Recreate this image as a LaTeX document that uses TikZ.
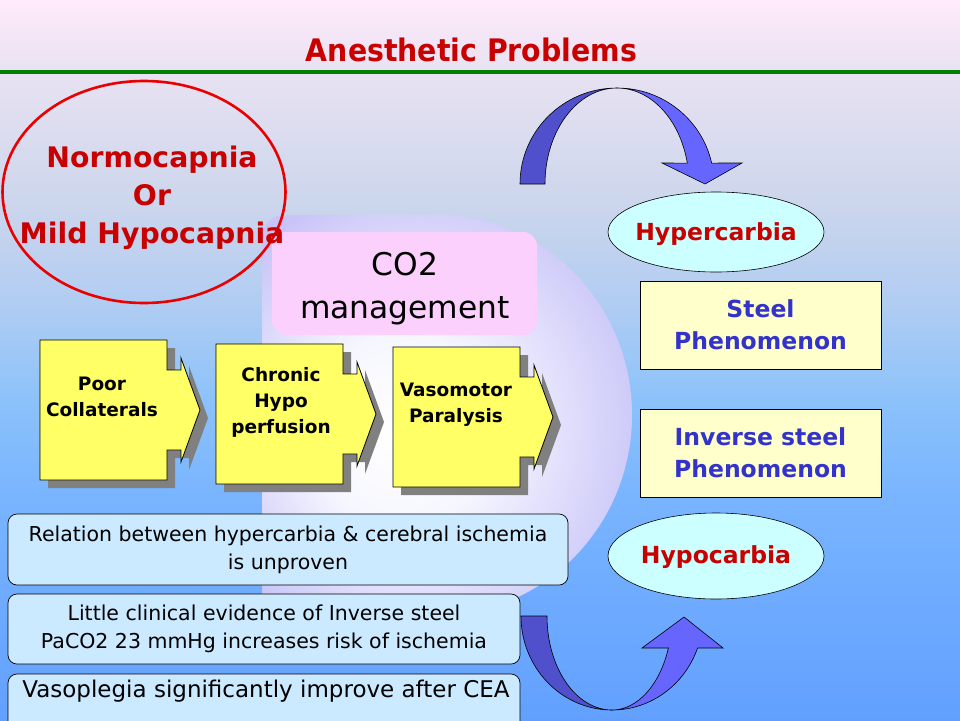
\documentclass[tikz,border=0pt]{standalone}
\usepackage{fontspec}
\setmainfont{DejaVu Sans}
\newfontfamily\titlefont[FakeStretch=0.915]{DejaVu Sans}
\usetikzlibrary{shapes.geometric}
\definecolor{bgA}{RGB}{255,234,250}
\definecolor{bgB}{RGB}{232,226,242}
\definecolor{bgC}{RGB}{205,214,236}
\definecolor{bgD}{RGB}{178,205,242}
\definecolor{bgE}{RGB}{140,194,250}
\definecolor{bgF}{RGB}{120,180,255}
\definecolor{bgG}{RGB}{98,160,255}
\definecolor{sphA}{RGB}{246,246,255}
\definecolor{sphB}{RGB}{200,196,248}
\definecolor{titlered}{RGB}{200,0,0}
\definecolor{ellred}{RGB}{235,0,0}
\definecolor{linegreen}{RGB}{0,128,0}
\definecolor{pinkbox}{RGB}{252,208,252}
\definecolor{yfill}{RGB}{255,255,102}
\definecolor{shadowgray}{RGB}{128,128,128}
\definecolor{cyanfill}{RGB}{204,255,255}
\definecolor{paleyellow}{RGB}{255,255,204}
\definecolor{textblue}{RGB}{51,51,204}
\definecolor{boxblue}{RGB}{204,234,255}
\definecolor{darkband}{RGB}{80,80,204}
\definecolor{lightband}{RGB}{102,102,255}
\pgfdeclareverticalshading{bgshade}{100bp}{color(0bp)=(bgG); color(25bp)=(bgG); color(40.3bp)=(bgF); color(47.2bp)=(bgE); color(54.2bp)=(bgD); color(61.1bp)=(bgC); color(70bp)=(bgB); color(75bp)=(bgA); color(100bp)=(bgA)}
\pgfdeclareradialshading{sphereshade}{\pgfpoint{-8bp}{-2.5bp}}{color(0bp)=(white); color(12bp)=(sphA); color(31bp)=(sphB); color(50bp)=(sphB)}
\begin{document}
\begin{tikzpicture}[x=1pt,y=-1pt,
  yarrow/.pic={
    \fill[shadowgray,shift={(8,8)}] (0,0) -- (127,0) -- (127,30) -- (141,30) -- (141,18) -- (160,70) -- (141,122) -- (141,110) -- (127,110) -- (127,140) -- (0,140) -- cycle;
    \filldraw[fill=yfill,draw=black,line width=0.8pt] (0,0) -- (127,0) -- (127,30) -- (141,30) -- (141,18) -- (160,70) -- (141,122) -- (141,110) -- (127,110) -- (127,140) -- (0,140) -- cycle;
  },
  ytext/.style={font=\fontsize{18.5}{26}\selectfont\bfseries, align=center, inner sep=0pt},
  bandD/.style={fill=darkband, draw=black, line width=0.6pt},
  bandL/.style={fill=lightband, draw=black, line width=0.6pt},
  bluebox/.style={draw=black, line width=0.7pt, fill=boxblue, rounded corners=9pt, align=center, inner sep=0pt},
  steelbox/.style={draw=black, line width=0.7pt, fill=paleyellow, minimum width=241pt, minimum height=88pt, align=center, inner sep=0pt, text=textblue, font=\fontsize{23.5}{32}\selectfont\bfseries},
  carbia/.style={ellipse, draw=black, line width=0.6pt, fill=cyanfill, minimum width=216pt, inner sep=0pt},
  carbiatext/.style={inner sep=0pt, text=titlered, font=\fontsize{23.5}{28}\selectfont\bfseries}
]
\useasboundingbox (0,0) rectangle (960,720);
% background
\shade[shading=bgshade] (0,0) rectangle (960,720);
\draw[linegreen, line width=4pt] (0,72) -- (960,72);
\node[font={\titlefont\fontsize{31}{36}\selectfont\bfseries}, text=titlered, inner sep=0pt] (title) at (471.5,50) {Anesthetic Problems};
% sphere
\shade[shading=sphereshade] (262,615) -- (262,237) arc[start angle=180,end angle=270,radius=22] -- (437,215) arc[start angle=270,end angle=450,x radius=195,y radius=200] -- cycle;
% CO2 box
\node[fill=pinkbox, rounded corners=14pt, minimum width=265pt, minimum height=103pt, inner sep=0pt] (co2box) at (404.5,283.5) {};
\node[inner sep=0pt, align=center, font=\fontsize{31.3}{43}\selectfont] (co2) at (405,289) {CO2\\management};
% red ellipse
\node[ellipse, draw=ellred, line width=2.6pt, minimum width=283pt, minimum height=222pt, inner sep=0pt] (normoE) at (144,192) {};
\node[inner sep=0pt, align=center, text=titlered, font=\fontsize{28.3}{38}\selectfont\bfseries] (normo) at (152,198) {Normocapnia\\Or\\Mild Hypocapnia};
% yellow arrows
\pic at (40,340) {yarrow};
\pic at (216,344) {yarrow};
\pic at (393,347) {yarrow};
\node[ytext] (poor) at (102,397) {Poor\\Collaterals};
\node[ytext] (chronic) at (281,402) {Chronic\\Hypo\\perfusion};
\node[ytext] (vaso) at (456,405) {Vasomotor\\Paralysis};
% right column
\node[carbia, minimum height=80pt] (hyperE) at (716,232) {};
\node[carbiatext] (hyper) at (716,234) {Hypercarbia};
\node[steelbox] (steel) at (760.5,325) {Steel\\Phenomenon};
\node[steelbox] (inverse) at (760.5,453) {Inverse steel\\Phenomenon};
\node[carbia, minimum height=86pt] (hypoE) at (716,556) {};
\node[carbiatext] (hypo) at (716,557) {Hypocarbia};
% bottom boxes
\node[bluebox, minimum width=560pt, minimum height=71pt, font=\fontsize{20.5}{28}\selectfont] (rel) at (288,549.5) {Relation between hypercarbia \& cerebral ischemia\\is unproven};
\node[bluebox, minimum width=512pt, minimum height=70pt, font=\fontsize{20.5}{28}\selectfont] (little) at (264,629) {Little clinical evidence of Inverse steel\\PaCO2 23 mmHg increases risk of ischemia};
\draw[bluebox] (8,674) rectangle (520,750);
\node[font=\fontsize{23}{28}\selectfont, inner sep=0pt] (vasopl) at (266,691) {Vasoplegia significantly improve after CEA};
% top curved arrow
\filldraw[bandL] (617,88) arc[start angle=270,end angle=347.4,x radius=97,y radius=96] -- (742,163) -- (705,184) -- (662,163) -- (687.3,163.1) arc[start angle=347.4,end angle=270,x radius=72,y radius=96] -- cycle;
\filldraw[bandD] (520,184) arc[start angle=180,end angle=270,x radius=97,y radius=96] arc[start angle=270,end angle=180,x radius=72,y radius=96] -- cycle;
% bottom curved arrow
\filldraw[bandL] (612,710) arc[start angle=90,end angle=19.9,x radius=91,y radius=94] -- (723,648) -- (684,617) -- (642,648) -- (668.4,648) arc[start angle=19.9,end angle=90,x radius=60,y radius=94] -- cycle;
\filldraw[bandD] (521,616) arc[start angle=180,end angle=90,x radius=91,y radius=94] arc[start angle=90,end angle=180,x radius=65,y radius=94] -- cycle;
\end{tikzpicture}
\end{document}
